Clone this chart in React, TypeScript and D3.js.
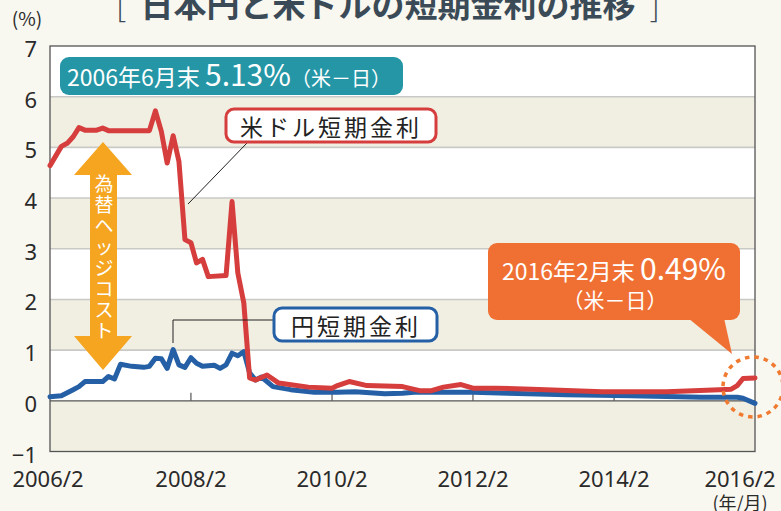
import React from "react";
import * as d3 from "d3";

const usDates = ["2006/02","2006/04","2006/05","2006/06","2006/07","2006/08","2006/10","2006/11","2006/12","2007/07","2007/08","2007/09","2007/10","2007/11","2007/12","2008/01","2008/02","2008/03","2008/04","2008/05","2008/08","2008/09","2008/10","2008/11","2008/12","2009/01","2009/03","2009/05","2009/10","2010/02","2010/03","2010/05","2010/08","2011/02","2011/05","2011/07","2011/09","2011/12","2012/02","2012/06","2012/12","2013/12","2014/11","2015/08","2015/10","2015/11","2015/12","2016/02"];
const usRates = [4.64,5.02,5.08,5.21,5.39,5.34,5.34,5.38,5.33,5.33,5.72,5.31,4.69,5.23,4.72,3.18,3.12,2.72,2.79,2.45,2.47,3.93,2.52,1.93,0.45,0.41,0.51,0.35,0.27,0.25,0.30,0.38,0.30,0.28,0.20,0.20,0.27,0.32,0.25,0.25,0.23,0.18,0.18,0.22,0.23,0.30,0.44,0.45];

const jpDates = ["2006/02","2006/04","2006/06","2006/07","2006/08","2006/11","2006/12","2007/01","2007/02","2007/04","2007/06","2007/07","2007/08","2007/09","2007/10","2007/11","2007/12","2008/01","2008/02","2008/03","2008/04","2008/06","2008/07","2008/08","2008/09","2008/10","2008/11","2008/12","2009/01","2009/02","2009/04","2009/07","2009/11","2010/03","2010/06","2010/11","2011/02","2011/04","2011/08","2012/02","2012/08","2013/06","2014/05","2015/05","2015/11","2015/12","2016/02"];
const jpRates = [0.08,0.10,0.22,0.28,0.38,0.38,0.48,0.43,0.72,0.68,0.66,0.68,0.84,0.83,0.64,1.01,0.71,0.66,0.85,0.74,0.68,0.70,0.64,0.71,0.94,0.89,0.97,0.55,0.41,0.47,0.28,0.22,0.17,0.17,0.18,0.14,0.15,0.17,0.17,0.17,0.15,0.12,0.10,0.07,0.07,0.05,-0.05];

const yTicks = [7, 6, 5, 4, 3, 2, 1, 0, -1];
const xTickLabels = ["2006/2", "2008/2", "2010/2", "2012/2", "2014/2", "2016/2"];

const title = "日本円と米ドルの短期金利の推移";
const hedgeText = ["為", "替", "ヘ", "ッ", "ジ", "コ", "ス", "ト"];

const parse = d3.timeParse("%Y/%m");

const FONT = "'Noto Sans', 'Noto Sans CJK JP', sans-serif";
const CJK = "'Noto Sans CJK JP', 'Noto Sans', sans-serif";

export default function App() {
  const W = 781, H = 511;
  const x = d3.scaleTime().domain([parse("2006/02")!, parse("2016/02")!]).range([50, 755]);
  const y = d3.scaleLinear().domain([-1, 7]).range([451.5, 46]);

  const line = d3.line<[Date, number]>().x(d => x(d[0])).y(d => y(d[1])).curve(d3.curveLinear);
  const usData: [Date, number][] = usDates.map((d, i) => [parse(d)!, usRates[i]]);
  const jpData: [Date, number][] = jpDates.map((d, i) => [parse(d)!, jpRates[i]]);

  const bands = d3.range(-1, 7);
  const xTickDates = xTickLabels.map(s => parse(s.replace(/\/(\d)$/, "/0$1"))!);

  return (
    <svg width={W} height={H} style={{ position: "absolute", left: 0, top: 0, display: "block" }}>
      <rect x={0} y={0} width={W} height={H} fill="#f8f7f0" />
      {bands.map(v => (
        <rect key={v} x={x.range()[0]} width={x.range()[1] - x.range()[0]} y={y(v + 1)} height={y(v) - y(v + 1)}
          fill={(v === -1 || v === 1 || v === 3 || v === 5) ? "#f1eee2" : "#ffffff"} />
      ))}
      {[1, 2, 3, 4, 5, 6].map(v => (
        <line key={v} x1={50} x2={755} y1={y(v)} y2={y(v)} stroke="#c9c9c6" strokeWidth={1.6} />
      ))}
      <line x1={50} x2={755} y1={y(0)} y2={y(0)} stroke="#555" strokeWidth={1.3} />
      <rect x={50} y={y(7)} width={705} height={y(-1) - y(7)} fill="none" stroke="#555" strokeWidth={1.3} />
      {xTickDates.slice(1, -1).map((d, i) => (
        <line key={i} x1={x(d)} x2={x(d)} y1={y(0)} y2={y(0) - 8} stroke="#555" strokeWidth={1.2} />
      ))}
      {yTicks.map(v => (
        <text key={v} x={37} y={y(v) + 2} textAnchor="end" dominantBaseline="central" fontFamily={FONT} fontSize={22} fill="#2a2a2a">
          {v < 0 ? "−" + Math.abs(v) : v}
        </text>
      ))}
      {xTickDates.map((d, i) => (
        <text key={i} x={i === xTickDates.length - 1 ? 740 : i === 0 ? 48 : x(d)} y={487} textAnchor="middle" fontFamily={FONT} fontSize={22} fill="#2a2a2a">
          {xTickLabels[i]}
        </text>
      ))}
      <text x={740} y={510} textAnchor="middle" fontFamily={CJK} fontSize={18} fill="#2a2a2a">(年/月)</text>
      <text x={27} y={26} textAnchor="middle" fontFamily={CJK} fontSize={19} fill="#2a2a2a">(%)</text>

      <text x={388} y={17} textAnchor="middle" fontFamily={CJK} fontWeight={700} fontSize={33} fill="#3b4a57">{title}</text>
      <text x={121} y={17} textAnchor="middle" fontFamily={CJK} fontWeight={300} fontSize={33} fill="#3b4a57">[</text>
      <text x={655} y={17} textAnchor="middle" fontFamily={CJK} fontWeight={300} fontSize={33} fill="#3b4a57">]</text>

      <polygon points="103,142 132,175 117,175 117,336 132,336 103,370 74,336 90,336 90,175 74,175" fill="#f5a51f" />
      {hedgeText.map((c, i) => (
        <text key={i} x={104} y={182 + i * 21} textAnchor="middle" dominantBaseline="central" fontFamily={CJK} fontSize={19} fill="#ffffff">{c}</text>
      ))}

      <path d={line(jpData)!} fill="none" stroke="#2560a6" strokeWidth={5} strokeLinejoin="round" strokeLinecap="round" />
      <path d={line(usData)!} fill="none" stroke="#d63d3d" strokeWidth={5} strokeLinejoin="round" strokeLinecap="round" />

      <rect x={60} y={57} width={343} height={38} rx={9} fill="#2596a6" />
      <text x={67} y={86} fontFamily={CJK} fill="#ffffff">
        <tspan fontSize={23}>2006年6月末 </tspan>
        <tspan fontSize={30}>5.13%</tspan>
        <tspan fontSize={20}>（米－日）</tspan>
      </text>

      <line x1={247} y1={143} x2={188} y2={204} stroke="#222" strokeWidth={1} />
      <rect x={226} y={109} width={210} height={33} rx={8} fill="#ffffff" stroke="#d63d3d" strokeWidth={3} />
      <text x={331} y={126} textAnchor="middle" dominantBaseline="central" fontFamily={CJK} fontSize={23} letterSpacing={3} fill="#222">米ドル短期金利</text>

      <polyline points="173,343 173,320 274,320" fill="none" stroke="#222" strokeWidth={1} />
      <rect x={274} y={308} width={163} height={33} rx={8} fill="#ffffff" stroke="#2560a6" strokeWidth={3} />
      <text x={356} y={325} textAnchor="middle" dominantBaseline="central" fontFamily={CJK} fontSize={23} letterSpacing={3} fill="#222">円短期金利</text>

      <rect x={488} y={243} width={252} height={77} rx={9} fill="#f07033" />
      <polygon points="688,318 724,318 732,354" fill="#f07033" />
      <text x={614} y={280} textAnchor="middle" fontFamily={CJK} fill="#ffffff">
        <tspan fontSize={23}>2016年2月末 </tspan>
        <tspan fontSize={30}>0.49%</tspan>
      </text>
      <text x={615} y={308} textAnchor="middle" fontFamily={CJK} fontSize={21} fill="#ffffff">（米－日）</text>
      <circle cx={753} cy={387} r={30} fill="none" stroke="#f07a30" strokeWidth={3.5} strokeDasharray="4.5 5" />
    </svg>
  );
}
